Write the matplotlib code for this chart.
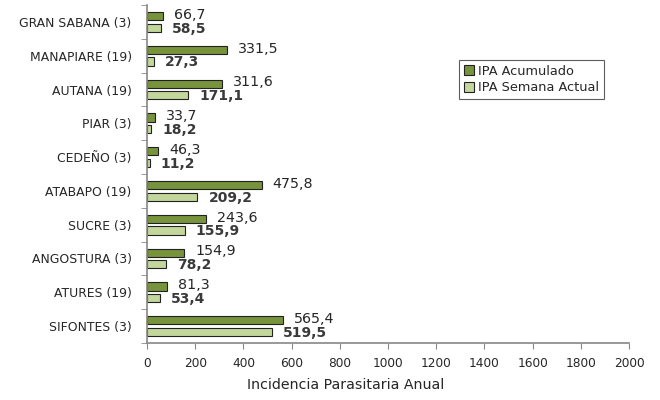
import matplotlib
matplotlib.use("Agg")
import matplotlib.pyplot as plt
import numpy as np
from matplotlib.ticker import FixedLocator

categories = ["GRAN SABANA (3)", "MANAPIARE (19)", "AUTANA (19)", "PIAR (3)", "CEDEÑO (3)",
              "ATABAPO (19)", "SUCRE (3)", "ANGOSTURA (3)", "ATURES (19)", "SIFONTES (3)"]
ipa_acumulado = [66.7, 331.5, 311.6, 33.7, 46.3, 475.8, 243.6, 154.9, 81.3, 565.4]
ipa_semana = [58.5, 27.3, 171.1, 18.2, 11.2, 209.2, 155.9, 78.2, 53.4, 519.5]
xticks = [0, 200, 400, 600, 800, 1000, 1200, 1400, 1600, 1800, 2000]

plt.rcParams['font.family'] = ['DejaVu Sans']

fig = plt.figure(figsize=(6.6, 4.0), dpi=100)
ax = fig.add_axes([0.2227, 0.1425, 0.953 - 0.2227, 0.9875 - 0.1425])

n = len(categories)
pos = np.arange(n)
h = 0.24
off = 0.17
dark = "#77933C"
light = "#C3D69B"
ax.barh(pos - off, ipa_acumulado, height=h, color=dark, edgecolor="#222222", linewidth=0.8,
        label="IPA Acumulado")
ax.barh(pos + off, ipa_semana, height=h, color=light, edgecolor="#222222", linewidth=0.8,
        label="IPA Semana Actual")

def fmt(v):
    return f"{v:.1f}".replace(".", ",")

for i in range(n):
    ax.annotate(fmt(ipa_acumulado[i]), (ipa_acumulado[i], pos[i] - off - 0.04),
                xytext=(11, 0), textcoords="offset pixels",
                ha="left", va="center", fontsize=10.3, color="#262626")
    ax.annotate(fmt(ipa_semana[i]), (ipa_semana[i], pos[i] + off + 0.03),
                xytext=(11, 0), textcoords="offset pixels",
                ha="left", va="center", fontsize=10.0, fontweight="bold", color="#3a3a3a")

ax.set_ylim(n - 0.5, -0.5)
ax.set_xlim(0, 2000)
ax.set_xticks(xticks)
ax.set_xticklabels([str(t) for t in xticks], fontsize=8.7, color="#262626")
ax.set_yticks(pos)
ax.set_yticklabels(categories, fontsize=8.9, color="#262626")
ax.yaxis.set_minor_locator(FixedLocator(np.arange(n + 1) - 0.5))
ax.tick_params(axis="y", which="major", length=0, pad=11)
ax.tick_params(axis="y", which="minor", length=4, color="#888888", direction="out")
ax.tick_params(axis="x", which="major", length=4, color="#888888", direction="out", pad=6)
for s in ["top", "right"]:
    ax.spines[s].set_visible(False)
for s in ["left", "bottom"]:
    ax.spines[s].set_color("#888888")
    ax.spines[s].set_linewidth(1.2)

ax.set_xlabel("Incidencia Parasitaria Anual", fontsize=10.2, labelpad=6, color="#262626")
ax.xaxis.set_label_coords((346 - 147) / (629 - 147), -0.105)

leg = ax.legend(loc="upper left", bbox_to_anchor=((459 - 147) / (629 - 147), 1 - (60 - 5) / 338),
                fontsize=9.3, frameon=True, fancybox=False, edgecolor="#333333",
                handlelength=0.8, handleheight=0.8, handletextpad=0.35, borderpad=0.35,
                labelspacing=0.3, borderaxespad=0)
leg.get_frame().set_linewidth(0.8)
for t in leg.get_texts():
    t.set_color("#262626")

fig.savefig("out.png", dpi=100)
